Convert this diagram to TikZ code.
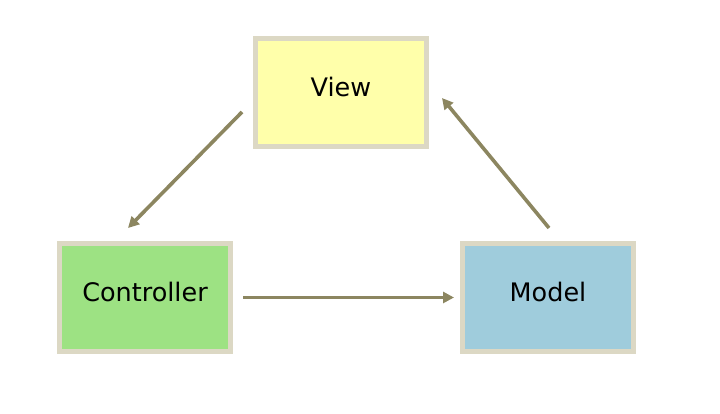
\documentclass[tikz,border=0pt]{standalone}
\usepackage{fontspec}
\setmainfont{DejaVu Sans}
\usepackage{xcolor}
\usetikzlibrary{arrows.meta, positioning}
\definecolor{boxedge}{HTML}{DCD8C4}
\definecolor{viewfill}{HTML}{FFFFAA}
\definecolor{ctrlfill}{HTML}{9DE283}
\definecolor{modelfill}{HTML}{9FCCDC}
\definecolor{arrowcol}{HTML}{8C8660}

\begin{document}
\begin{tikzpicture}[x=1pt, y=1pt, >={Triangle[length=11pt, width=11pt]},
    mvcbox/.style={draw=boxedge, line width=5pt, minimum width=171pt,
      minimum height=108pt, text height=18pt, text depth=10pt,
      font=\fontsize{25.5}{30}\selectfont},
    flow/.style={->, arrowcol, line width=3.6pt}]
  \useasboundingbox (0,0) rectangle (720,414);

  % Boxes
  \node[mvcbox, fill=viewfill] (view) at (341, 321) {View};
  \node[mvcbox, fill=ctrlfill] (controller) at (145, 116.5) {Controller};
  \node[mvcbox, fill=modelfill] (model) at (548, 116.5) {Model};

  % Arrows
  \draw[flow] ([xshift=-11pt, yshift=-19pt]view.west)
      -- ([xshift=-17pt, yshift=13pt]controller.north);
  \draw[flow, shorten <=10pt, shorten >=6pt] (controller) -- (model);
  \draw[flow] ([xshift=1pt, yshift=13pt]model.north)
      -- ([xshift=13pt, yshift=-5pt]view.east);
\end{tikzpicture}
\end{document}
